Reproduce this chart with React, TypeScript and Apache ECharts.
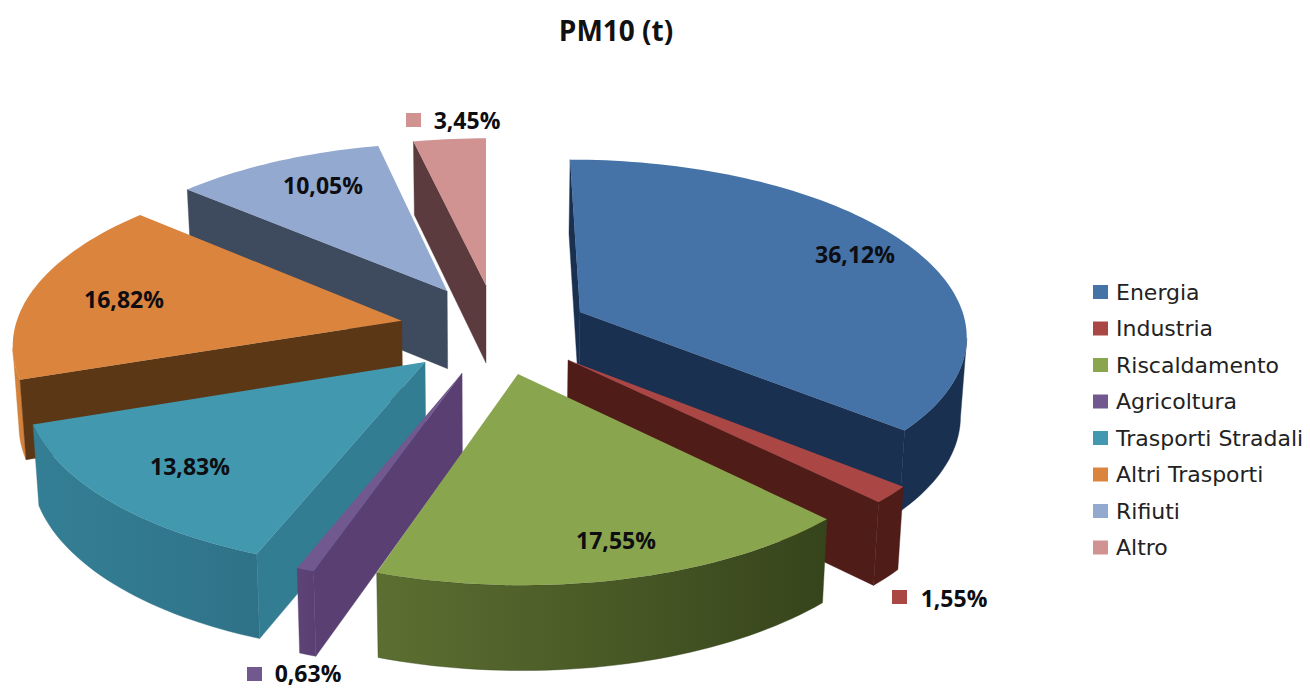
import React, { useEffect, useRef } from "react";
import * as echarts from "echarts";

const categories = ["Energia", "Industria", "Riscaldamento", "Agricoltura", "Trasporti Stradali", "Altri Trasporti", "Rifiuti", "Altro"];
const values = [36.12, 1.55, 17.55, 0.63, 13.83, 16.82, 10.05, 3.45];
const chartTitle = "PM10 (t)";

// explosion of each slice, in pie radii: [right, away from the viewer]
const explode = [[0.2456, 0.161], [0.2075, -0.111], [0.08, -0.188], [-0.06, -0.183], [-0.154, -0.123], [-0.219, 0.11], [-0.103, 0.286], [0, 0.32]];
const topColors = ["#4572A7", "#AA4643", "#89A54E", "#71588F", "#4198AF", "#DB843D", "#93A9CF", "#D19392"];
const wallColors = ["#1A3050", "#4F1C18", "#3D4C22", "#5A3F72", "#337D93", "#5C3716", "#3E4A5E", "#5B3B3E"];
const rimFrom = ["#1A3050", "#4F1C18", "#36441B", "#5A3F72", "#2F7288", "#D3813B", "#3E4A5E", "#5B3B3E"];
const rimTo = ["#1A3050", "#4F1C18", "#5C6F31", "#5E4377", "#347F95", "#D3813B", "#3E4A5E", "#5B3B3E"];
// back-to-front paint order
const paintOrder = [7, 6, 5, 0, 1, 4, 3, 2];
const labelAt = [[855, 254], [954, 598], [616, 540], [308, 673], [190, 466], [124, 299], [323, 185], [467, 120]];
const keyAt: (number[] | null)[] = [null, [892, 590], null, [247, 667], null, null, null, [406, 113]];

const FONT = "'Open Sans', 'Noto Sans', sans-serif";
const CX = 486, CY = 340, A = 390, B = 177, K = 0.12, DEPTH = 79, BOTTOM_SHRINK = 0.987;
const topPt = (u: number, v: number) => {
  const w = 1 + K * v;
  return [CX + (A * u) / w, CY - (B * v) / w];
};
const botPt = (u: number, v: number) => {
  const w = 1 + K * v;
  const p = topPt(u, v);
  return [CX + (p[0] - CX) * BOTTOM_SHRINK, p[1] + DEPTH / Math.sqrt(w)];
};
const area = (pts: number[][]) => {
  let s = 0;
  pts.forEach((p, i) => {
    const q = pts[(i + 1) % pts.length];
    s += p[0] * q[1] - q[0] * p[1];
  });
  return s;
};

function renderSlice(params: any, api: any) {
  const i = params.seriesIndex;
  const value = api.value(0);
  const total = values.reduce((a, b) => a + b, 0);
  const before = values.slice(0, i).reduce((a, b) => a + b, 0);
  const t0 = (before / total) * 2 * Math.PI;
  const t1 = t0 + (value / total) * 2 * Math.PI;
  const [eu, ev] = explode[i];
  const n = Math.max(2, Math.ceil((t1 - t0) / (Math.PI / 120)));
  const model: number[][] = [];
  for (let j = 0; j <= n; j++) {
    const t = t0 + ((t1 - t0) * j) / n;
    model.push([eu + Math.sin(t), ev + Math.cos(t)]);
  }
  const tops = model.map((m) => topPt(m[0], m[1]));
  const bots = model.map((m) => botPt(m[0], m[1]));
  const apexT = topPt(eu, ev);
  const apexB = botPt(eu, ev);
  const children: any[] = [];
  // rim: only the part that faces the viewer
  const rimT: number[][] = [];
  const rimB: number[][] = [];
  for (let j = 0; j < n; j++) {
    if (tops[j + 1][0] < tops[j][0]) {
      if (!rimT.length) {
        rimT.push(tops[j]);
        rimB.push(bots[j]);
      }
      rimT.push(tops[j + 1]);
      rimB.push(bots[j + 1]);
    }
  }
  if (rimT.length > 1) {
    children.push({
      type: "polygon",
      shape: { points: rimT.concat(rimB.slice().reverse()) },
      style: {
        fill: new echarts.graphic.LinearGradient(0, 0, 1, 0, [
          { offset: 0, color: rimTo[i] },
          { offset: 1, color: rimFrom[i] },
        ]),
        stroke: rimFrom[i],
        lineWidth: 0.4,
      },
    });
  }
  const startWall = [apexT, tops[0], bots[0], apexB];
  const endWall = [apexT, tops[n], bots[n], apexB];
  if (area(startWall) < 0) children.push({ type: "polygon", shape: { points: startWall }, style: { fill: wallColors[i], stroke: wallColors[i], lineWidth: 0.4 } });
  if (area(endWall) > 0) children.push({ type: "polygon", shape: { points: endWall }, style: { fill: wallColors[i], stroke: wallColors[i], lineWidth: 0.4 } });
  children.push({ type: "polygon", shape: { points: [apexT, ...tops] }, style: { fill: topColors[i] } });
  const key = keyAt[i];
  if (key) children.push({ type: "rect", shape: { x: key[0], y: key[1], width: 15, height: 14 }, style: { fill: topColors[i] } });
  children.push({
    type: "text",
    z2: 10,
    style: {
      text: value.toFixed(2).replace(".", ",") + "%",
      x: labelAt[i][0],
      y: labelAt[i][1],
      align: "center",
      verticalAlign: "middle",
      fontFamily: FONT,
      fontWeight: "bold",
      fontSize: 23,
      fill: "#0d0d12",
    },
  });
  return { type: "group", children };
}

export default function App() {
  const ref = useRef<HTMLDivElement>(null);
  useEffect(() => {
    const chart = echarts.init(ref.current!, undefined, { renderer: "svg" });
    chart.setOption({
      animation: false,
      backgroundColor: "#ffffff",
      title: {
        text: chartTitle,
        left: 611,
        top: 11,
        textAlign: "center",
        textStyle: { fontFamily: FONT, fontWeight: "bold", fontSize: 28, color: "#111" },
      },
      legend: {
        orient: "vertical",
        left: 1093,
        top: 281,
        padding: 0,
        icon: "rect",
        itemWidth: 15,
        itemHeight: 14,
        itemGap: 14.5,
        data: categories,
        textStyle: { fontFamily: "'DejaVu Sans', sans-serif", fontSize: 22, color: "#222", lineHeight: 22, padding: [0, 0, 0, 3] },
      },
      series: categories.map((name, i) => ({
        type: "custom",
        name,
        coordinateSystem: "none",
        z: 2 + paintOrder.indexOf(i),
        itemStyle: { color: topColors[i] },
        clip: false,
        renderItem: renderSlice,
        data: [[values[i]]],
      })),
    });
    return () => chart.dispose();
  }, []);
  return <div ref={ref} style={{ position: "fixed", left: 0, top: 0, width: 1310, height: 689 }} />;
}
